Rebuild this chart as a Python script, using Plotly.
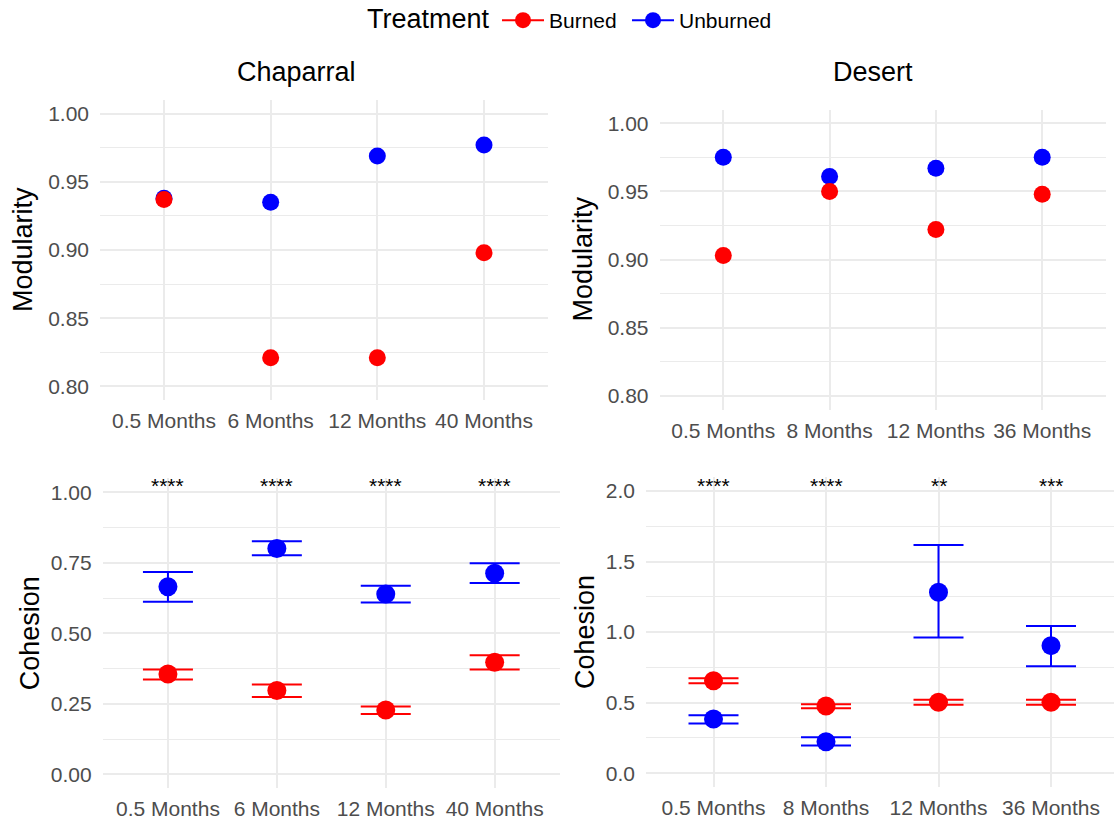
import plotly.graph_objects as go

W, H = 1114, 821

# ---------------- data ----------------
chap_months = ["0.5 Months", "6 Months", "12 Months", "40 Months"]
desert_months = ["0.5 Months", "8 Months", "12 Months", "36 Months"]

chap_mod_burned = [0.937, 0.821, 0.821, 0.898]
chap_mod_unburned = [0.938, 0.935, 0.969, 0.977]
des_mod_burned = [0.903, 0.950, 0.922, 0.948]
des_mod_unburned = [0.975, 0.961, 0.967, 0.975]

chap_coh_burned = [0.356, 0.297, 0.228, 0.397]
chap_coh_burned_hi = [0.372, 0.318, 0.240, 0.422]
chap_coh_burned_lo = [0.336, 0.274, 0.214, 0.372]
chap_coh_unburned = [0.665, 0.801, 0.639, 0.713]
chap_coh_unburned_hi = [0.717, 0.826, 0.669, 0.748]
chap_coh_unburned_lo = [0.612, 0.777, 0.609, 0.678]

des_coh_burned = [0.656, 0.477, 0.503, 0.503]
des_coh_burned_hi = [0.673, 0.489, 0.520, 0.520]
des_coh_burned_lo = [0.637, 0.460, 0.486, 0.486]
des_coh_unburned = [0.384, 0.224, 1.282, 0.904]
des_coh_unburned_hi = [0.411, 0.255, 1.617, 1.043]
des_coh_unburned_lo = [0.352, 0.196, 0.961, 0.758]

chap_sig = ["****", "****", "****", "****"]
des_sig = ["****", "****", "**", "***"]
chap_sig_y = [1.024, 1.024, 1.024, 1.024]
des_sig_y = [2.038, 2.038, 2.038, 2.038]

legend_title = "Treatment"
treatments = ["Burned", "Unburned"]
colors = {"Burned": "#FF0000", "Unburned": "#0000FF"}

FONT = "Liberation Sans, Arial, sans-serif"
GRID = "#ebebeb"
TICKC = "#4d4d4d"


def px_x(a, b):
    return [a / W, min(b / W, 1.0)]


def px_y(top, bottom):
    return [1 - bottom / H, 1 - top / H]


fig = go.Figure()

# legend entries (one legend box per treatment, so spacing can follow the original)
for t, lg in zip(treatments, ["legend", "legend2"]):
    fig.add_trace(go.Scatter(
        x=[None], y=[None], mode="lines+markers", name=t,
        marker=dict(color=colors[t], size=16),
        line=dict(color=colors[t], width=2),
        xaxis="x", yaxis="y", showlegend=True, legend=lg))


def err_arrays(v, hi, lo):
    return [h - m for h, m in zip(hi, v)], [m - l for m, l in zip(v, lo)]


# Top-left: Chaparral modularity
for t, vals in [("Unburned", chap_mod_unburned), ("Burned", chap_mod_burned)]:
    fig.add_trace(go.Scatter(x=chap_months, y=vals, mode="markers",
                             marker=dict(color=colors[t], size=17),
                             xaxis="x", yaxis="y", showlegend=False, name=t))
# Top-right: Desert modularity
for t, vals in [("Unburned", des_mod_unburned), ("Burned", des_mod_burned)]:
    fig.add_trace(go.Scatter(x=desert_months, y=vals, mode="markers",
                             marker=dict(color=colors[t], size=17),
                             xaxis="x2", yaxis="y2", showlegend=False, name=t))
# Bottom-left: Chaparral cohesion
for t, v, hi, lo in [("Unburned", chap_coh_unburned, chap_coh_unburned_hi, chap_coh_unburned_lo),
                     ("Burned", chap_coh_burned, chap_coh_burned_hi, chap_coh_burned_lo)]:
    up, dn = err_arrays(v, hi, lo)
    fig.add_trace(go.Scatter(x=chap_months, y=v, mode="markers",
                             marker=dict(color=colors[t], size=19),
                             error_y=dict(type="data", symmetric=False, array=up, arrayminus=dn,
                                          color=colors[t], thickness=2, width=25),
                             xaxis="x3", yaxis="y3", showlegend=False, name=t))
# Bottom-right: Desert cohesion
for t, v, hi, lo in [("Unburned", des_coh_unburned, des_coh_unburned_hi, des_coh_unburned_lo),
                     ("Burned", des_coh_burned, des_coh_burned_hi, des_coh_burned_lo)]:
    up, dn = err_arrays(v, hi, lo)
    fig.add_trace(go.Scatter(x=desert_months, y=v, mode="markers",
                             marker=dict(color=colors[t], size=19),
                             error_y=dict(type="data", symmetric=False, array=up, arrayminus=dn,
                                          color=colors[t], thickness=2, width=25),
                             xaxis="x4", yaxis="y4", showlegend=False, name=t))

xcommon = dict(type="category", showgrid=True, gridcolor=GRID, gridwidth=2,
               zeroline=False, showline=False, ticks="",
               tickfont=dict(family=FONT, size=21, color=TICKC), ticklabelstandoff=6)
ycommon = dict(showgrid=True, gridcolor=GRID, gridwidth=2, zeroline=False, showline=False,
               ticks="", tickfont=dict(family=FONT, size=21, color=TICKC), ticklabelstandoff=10)

minor_mod = dict(tickvals=[0.825, 0.875, 0.925, 0.975], showgrid=True, gridcolor=GRID, gridwidth=1)

legend_common = dict(orientation="h", y=1.0, yanchor="top", xanchor="left", itemwidth=42,
                     font=dict(size=21, family=FONT, color="black"), bgcolor="rgba(0,0,0,0)")

fig.update_layout(
    width=W, height=H,
    margin=dict(l=0, r=0, t=0, b=0),
    paper_bgcolor="white", plot_bgcolor="white",
    font=dict(family=FONT, color="black"),
    xaxis=dict(xcommon, domain=px_x(100, 548), anchor="y", range=[-0.6, 3.6],
               categoryorder="array", categoryarray=chap_months),
    yaxis=dict(ycommon, domain=px_y(100, 400), anchor="x", range=[0.79, 1.01],
               tickvals=[0.80, 0.85, 0.90, 0.95, 1.00], tickformat=".2f", minor=minor_mod),
    xaxis2=dict(xcommon, domain=px_x(659.5, 1106), anchor="y2", range=[-0.6, 3.6],
                categoryorder="array", categoryarray=desert_months),
    yaxis2=dict(ycommon, domain=px_y(109.6, 409.6), anchor="x2", range=[0.79, 1.01],
                tickvals=[0.80, 0.85, 0.90, 0.95, 1.00], tickformat=".2f", minor=minor_mod),
    xaxis3=dict(xcommon, domain=px_x(102.6, 560), anchor="y3", range=[-0.6, 3.6],
                categoryorder="array", categoryarray=chap_months),
    yaxis3=dict(ycommon, domain=px_y(478.2, 788.4), anchor="x3", range=[-0.05, 1.05],
                tickvals=[0, 0.25, 0.5, 0.75, 1.0], tickformat=".2f",
                minor=dict(tickvals=[0.125, 0.375, 0.625, 0.875], showgrid=True, gridcolor=GRID, gridwidth=1)),
    xaxis4=dict(xcommon, domain=px_x(646, 1114), anchor="y4", range=[-0.6, 3.56],
                categoryorder="array", categoryarray=desert_months),
    yaxis4=dict(ycommon, domain=px_y(476.8, 787.4), anchor="x4", range=[-0.1, 2.1],
                tickvals=[0, 0.5, 1.0, 1.5, 2.0], tickformat=".1f",
                minor=dict(tickvals=[0.25, 0.75, 1.25, 1.75], showgrid=True, gridcolor=GRID, gridwidth=1)),
    legend=dict(legend_common, x=497 / W),
    legend2=dict(legend_common, x=627 / W),
)

ann = []
# legend title
ann.append(dict(text=legend_title, x=492 / W, y=1 - 19 / H, xref="paper", yref="paper",
                showarrow=False, font=dict(size=27, family=FONT, color="black"),
                xanchor="right", yanchor="middle"))
# panel titles
ann.append(dict(text="Chaparral", x=296.5 / W, y=1 - 71.7 / H, xref="paper", yref="paper",
                showarrow=False, font=dict(size=27, family=FONT, color="black"),
                xanchor="center", yanchor="middle"))
ann.append(dict(text="Desert", x=872.5 / W, y=1 - 71.7 / H, xref="paper", yref="paper",
                showarrow=False, font=dict(size=27, family=FONT, color="black"),
                xanchor="center", yanchor="middle"))
# y titles
for txt, xc, (t, b) in [("Modularity", 23, (100, 400)), ("Modularity", 583, (109.6, 409.6)),
                        ("Cohesion", 30, (478.2, 788.4)), ("Cohesion", 585, (476.8, 787.4))]:
    ann.append(dict(text=txt, x=xc / W, y=1 - (t + b) / 2 / H, xref="paper", yref="paper",
                    textangle=-90, showarrow=False, font=dict(size=27, family=FONT, color="black"),
                    xanchor="center", yanchor="middle"))
# significance stars
for m, s, yv in zip(chap_months, chap_sig, chap_sig_y):
    ann.append(dict(text=s, x=m, y=yv, xref="x3", yref="y3", showarrow=False,
                    font=dict(size=21, family=FONT, color="black"), yanchor="middle"))
for m, s, yv in zip(desert_months, des_sig, des_sig_y):
    ann.append(dict(text=s, x=m, y=yv, xref="x4", yref="y4", showarrow=False,
                    font=dict(size=21, family=FONT, color="black"), yanchor="middle"))
fig.update_layout(annotations=ann)

fig.write_html("out.html")
